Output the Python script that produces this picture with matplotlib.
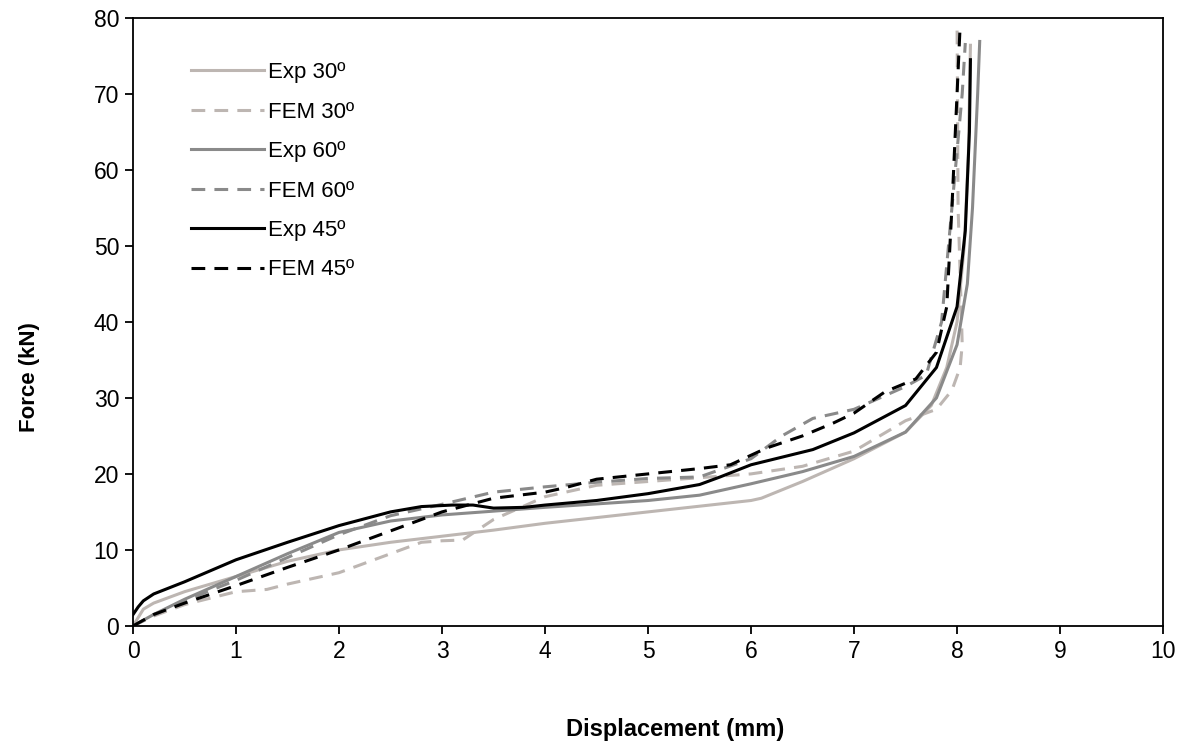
import matplotlib.pyplot as plt

plt.rcParams['font.family'] = ['Liberation Sans', 'DejaVu Sans']

# Force-displacement curves, values
exp30_x = [0, 0.1, 0.2, 0.5, 1.0, 1.5, 2.0, 2.5, 3.0, 3.5, 4.0, 5.0, 6.0, 6.1, 6.5,
           7.0, 7.5, 7.75, 7.9, 8.0, 8.07, 8.11, 8.13]
exp30_y = [0, 2.2, 3.0, 4.5, 6.5, 8.5, 10.0, 11.0, 11.8, 12.6, 13.5, 15.0, 16.5, 16.8, 19.0,
           22.0, 25.5, 29.0, 34.0, 40.0, 50.0, 62.0, 76.4]

fem30_x = [0, 0.2, 0.5, 1.0, 1.3, 1.5, 2.0, 2.5, 2.8, 3.0, 3.2, 3.5, 4.0, 4.5, 5.0, 5.5,
           6.0, 6.5, 7.0, 7.5, 7.8, 7.95, 8.03, 8.05, 8.04, 8.01, 8.0]
fem30_y = [0, 1.3, 2.8, 4.5, 4.8, 5.5, 7.0, 9.5, 11.0, 11.2, 11.3, 14.0, 17.0, 18.5, 19.0, 19.5,
           20.0, 21.0, 23.0, 27.0, 28.5, 31.0, 34.0, 37.0, 42.0, 55.0, 79.5]

exp60_x = [0, 0.2, 0.5, 1.0, 1.5, 2.0, 2.5, 3.0, 3.5, 4.0, 5.0, 5.5, 6.0, 6.5, 7.0,
           7.5, 7.8, 8.0, 8.1, 8.15, 8.2, 8.22]
exp60_y = [0, 1.5, 3.5, 6.5, 9.5, 12.3, 13.8, 14.6, 15.1, 15.6, 16.5, 17.2, 18.7, 20.3, 22.3,
           25.5, 30.0, 37.0, 45.0, 55.0, 70.0, 76.9]

fem60_x = [0, 0.2, 0.5, 1.0, 1.5, 2.0, 2.5, 3.0, 3.5, 4.0, 4.5, 5.0, 5.5, 6.0, 6.3, 6.6,
           7.0, 7.5, 7.7, 7.85, 7.95, 8.05, 8.08]
fem60_y = [0, 1.4, 3.3, 6.0, 9.0, 12.0, 14.5, 16.0, 17.6, 18.3, 18.9, 19.4, 19.6, 22.0, 25.0, 27.3,
           28.5, 31.5, 33.0, 40.0, 55.0, 70.0, 76.7]

exp45_x = [0, 0.05, 0.1, 0.2, 0.5, 1.0, 1.5, 2.0, 2.5, 2.8, 3.1, 3.3, 3.5, 3.8, 4.0, 4.5,
           5.0, 5.5, 5.7, 6.0, 6.6, 7.0, 7.5, 7.8, 8.0, 8.08, 8.12, 8.13]
exp45_y = [1.5, 2.5, 3.3, 4.2, 5.8, 8.7, 11.0, 13.2, 15.0, 15.7, 15.9, 15.9, 15.5, 15.6, 15.9, 16.5,
           17.4, 18.6, 19.6, 21.2, 23.2, 25.4, 29.0, 34.0, 42.0, 52.0, 65.0, 74.5]

fem45_x = [0, 0.2, 0.5, 1.0, 1.5, 2.0, 2.5, 3.0, 3.5, 4.0, 4.2, 4.5, 5.0, 5.5, 5.8, 6.15,
           6.5, 6.8, 7.0, 7.3, 7.6, 7.8, 7.9, 7.95, 8.0, 8.03]
fem45_y = [0, 1.5, 3.0, 5.3, 7.7, 10.0, 12.5, 15.0, 16.8, 17.6, 18.2, 19.3, 20.0, 20.7, 21.2, 23.4,
           25.0, 26.7, 28.0, 30.8, 32.5, 36.0, 42.0, 55.0, 70.0, 79.0]

light = '#bdb6b2'
mid = '#8a8a8a'
dash = (0, (4.5, 3))

fig = plt.figure(figsize=(11.88, 7.46), dpi=100)
ax = fig.add_axes([0.112, 0.161, 0.867, 0.815])

ax.plot(exp30_x, exp30_y, color=light, lw=2.2, label='Exp 30º')
ax.plot(fem30_x, fem30_y, color=light, lw=2.2, ls=dash, label='FEM 30º')
ax.plot(exp60_x, exp60_y, color=mid, lw=2.2, label='Exp 60º')
ax.plot(fem60_x, fem60_y, color=mid, lw=2.2, ls=dash, label='FEM 60º')
ax.plot(exp45_x, exp45_y, color='black', lw=2.2, label='Exp 45º')
ax.plot(fem45_x, fem45_y, color='black', lw=2.2, ls=dash, label='FEM 45º')

ax.set_xlim(0, 10)
ax.set_ylim(0, 80)
ax.set_xticks(range(0, 11))
ax.set_yticks(range(0, 81, 10))
ax.tick_params(direction='out', length=6, width=1.3, labelsize=16.5, pad=4)
for s in ax.spines.values():
    s.set_linewidth(1.3)

ax.set_xlabel('Displacement (mm)', fontsize=17, fontweight='bold')
ax.xaxis.set_label_coords(0.526, -0.152)
ax.set_ylabel('Force (kN)', fontsize=16, fontweight='bold')
ax.yaxis.set_label_coords(-0.09, 0.41)

ax.legend(loc='upper left', bbox_to_anchor=(0.037, 0.96), frameon=False, fontsize=16,
          handlelength=3.3, handletextpad=0.15, labelspacing=0.83)

fig.savefig('out.png', dpi=100)
